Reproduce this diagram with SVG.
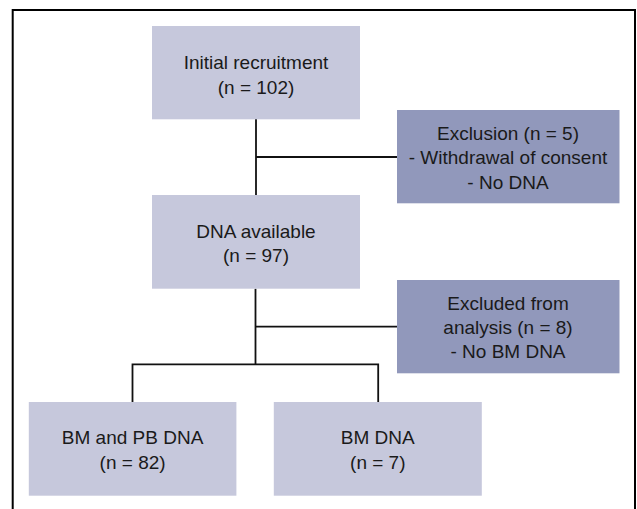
<svg xmlns="http://www.w3.org/2000/svg" width="637" height="509" viewBox="0 0 637 509">
<style>
.light{fill:#c6c8dc}
.dark{fill:#9198bb}
.t{font-family:"Liberation Sans",Arial,sans-serif;font-size:19px;fill:#1a1a1a;text-anchor:middle}
.c{fill:none;stroke:#111;stroke-width:1.8}
</style>
<rect width="637" height="509" fill="#fff"/>
<path d="M12.7,509 V10 H635 V509" fill="none" stroke="#000" stroke-width="2"/>
<g id="connectors">
<path class="c" d="M256,119 V195"/>
<path class="c" d="M256,157 H397"/>
<path class="c" d="M255.5,288.7 V364.3"/>
<path class="c" d="M255.5,326.7 H397"/>
<path class="c" d="M132.5,402 V364.3 H378.2 V402"/>
</g>
<g id="initial">
<rect class="light" x="152" y="26" width="208" height="93.3"/>
<text class="t" x="256" y="69">Initial recruitment</text>
<text class="t" x="256" y="93.5">(n = 102)</text>
</g>
<g id="exclusion">
<rect class="dark" x="397" y="110" width="222.5" height="93.3"/>
<text class="t" x="508" y="139.5">Exclusion (n = 5)</text>
<text class="t" x="508" y="163.5">- Withdrawal of consent</text>
<text class="t" x="508" y="188.5">- No DNA</text>
</g>
<g id="dna">
<rect class="light" x="152" y="195" width="208" height="93.7"/>
<text class="t" x="256" y="237.5">DNA available</text>
<text class="t" x="256" y="261.5">(n = 97)</text>
</g>
<g id="excluded">
<rect class="dark" x="397" y="280" width="222.5" height="93.3"/>
<text class="t" x="508" y="309.5">Excluded from</text>
<text class="t" x="508" y="333.5">analysis (n = 8)</text>
<text class="t" x="508" y="357.5">- No BM DNA</text>
</g>
<g id="bm-pb">
<rect class="light" x="28.8" y="402" width="207.6" height="93.7"/>
<text class="t" x="132.6" y="443.5">BM and PB DNA</text>
<text class="t" x="132.6" y="468.5">(n = 82)</text>
</g>
<g id="bm">
<rect class="light" x="273.8" y="402" width="208" height="93.7"/>
<text class="t" x="377.8" y="443.5">BM DNA</text>
<text class="t" x="377.8" y="468.5">(n = 7)</text>
</g>
</svg>
